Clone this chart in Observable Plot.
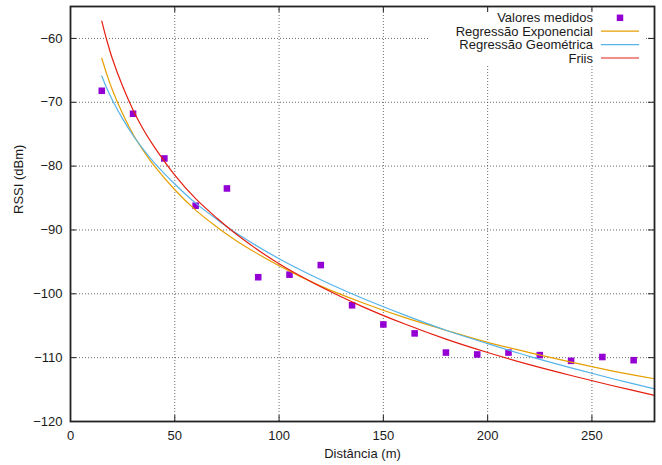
<!DOCTYPE html>
<html><head><meta charset="utf-8">
<script src="https://cdn.jsdelivr.net/npm/d3@7"></script>
<script src="https://cdn.jsdelivr.net/npm/@observablehq/plot@0.6"></script>
<style>
body{margin:0;background:#fff;}
#chart{position:relative;width:662px;height:465px;font-family:"Liberation Sans",Arial,Helvetica,sans-serif;}
#chart svg{display:block;}
#legend{position:absolute;left:0;top:0;pointer-events:none;}
</style></head><body><div id="chart"></div>
<script>
// Measured values
const distances = [15,30,45,60,75,90,105,120,135,150,165,180,195,210,225,240,255,270];
const rssiMeasured = [-68.2,-71.8,-78.8,-86.2,-83.5,-97.4,-97.0,-95.5,-101.8,-104.8,-106.2,-109.2,-109.5,-109.2,-109.6,-110.5,-109.9,-110.4];

// Fitted curves
const curveX = [15,17.5,20,25,30,35,40,50,60,70,80,100,120,140,160,180,200,220,240,260,280];
const expRegression = [-63.1,-65.7,-68.0,-71.8,-75.0,-77.6,-79.9,-83.7,-86.9,-89.5,-91.8,-95.6,-98.8,-101.4,-103.7,-105.7,-107.6,-109.2,-110.7,-112.1,-113.3];
const geoRegression = [-65.9,-67.9,-69.6,-72.6,-75.2,-77.4,-79.4,-82.8,-85.8,-88.3,-90.6,-94.5,-97.8,-100.7,-103.3,-105.7,-107.8,-109.8,-111.6,-113.3,-114.9];
const friis = [-57.3,-60.4,-63.1,-67.5,-71.2,-74.3,-76.9,-81.4,-85.1,-88.1,-90.8,-95.3,-98.9,-102.0,-104.7,-107.1,-109.2,-111.1,-112.8,-114.4,-115.9];

const xTicks = [0,50,100,150,200,250];
const yTicks = [-120,-110,-100,-90,-80,-70,-60];
const seriesNames = ["Valores medidos","Regressão Exponencial","Regressão Geométrica","Friis"];
const seriesColors = ["#9400d3","#e69f00","#56b4e9","#e51e10"];
const xLabel = "Distância (m)";
const yLabel = "RSSI (dBm)";

const W = 662, H = 465;
const mL = 70, mR = 8, mT = 6, mB = 44;
const innerW = W - mL - mR, innerH = H - mT - mB;
const tickLen = 6;

const points = distances.map((d, i) => ({x: d, y: rssiMeasured[i]}));
const curves = [
  {name: seriesNames[1], color: seriesColors[1], values: expRegression},
  {name: seriesNames[2], color: seriesColors[2], values: geoRegression},
  {name: seriesNames[3], color: seriesColors[3], values: friis}
].map(s => ({...s, data: curveX.map((x, i) => ({x, y: s.values[i]}))}));

const fmt = d => (d < 0 ? "\u2212" : "") + Math.abs(d);
const gridStyle = {stroke: "#444", strokeOpacity: 1, strokeWidth: 0.8, strokeDasharray: "1,2"};
const tickStyle = {stroke: "#222", strokeWidth: 1};

const plot = Plot.plot({
  width: W, height: H,
  marginLeft: mL, marginRight: mR, marginTop: mT, marginBottom: mB,
  style: {fontFamily: '"Liberation Sans", Arial, Helvetica, sans-serif', fontSize: "13px", color: "#1a1a1a", background: "#fff"},
  x: {domain: [0, 280]},
  y: {domain: [-120, -55]},
  marks: [
    Plot.gridX(xTicks.filter(d => d > 0), gridStyle),
    Plot.gridY(yTicks.filter(d => d > -120), gridStyle),
    Plot.tickX(xTicks, {x: d => d, insetTop: innerH - tickLen, ...tickStyle}),
    Plot.tickX(xTicks, {x: d => d, insetBottom: innerH - tickLen, ...tickStyle}),
    Plot.tickY(yTicks, {y: d => d, insetRight: innerW - tickLen, ...tickStyle}),
    Plot.tickY(yTicks, {y: d => d, insetLeft: innerW - tickLen, ...tickStyle}),
    Plot.axisX({ticks: xTicks, tickSize: 0, tickPadding: 9, label: null, fontSize: 13}),
    Plot.axisY({ticks: yTicks, tickSize: 0, tickPadding: 8, tickFormat: fmt, label: null, fontSize: 13}),
    Plot.dot(points, {x: "x", y: "y", symbol: "square", r: 3.7, fill: seriesColors[0], stroke: "none"}),
    ...curves.map(s => Plot.line(s.data, {x: "x", y: "y", stroke: s.color, strokeWidth: 1.2, curve: "catmull-rom"})),
    Plot.frame({stroke: "#222", strokeWidth: 1.8}),
    Plot.text([yLabel], {text: d => d, frameAnchor: "left", dx: -52, rotate: -90, fontSize: 13}),
    Plot.text([xLabel], {text: d => d, frameAnchor: "bottom", dy: 36, fontSize: 13})
  ]
});
const chart = document.getElementById("chart");
chart.appendChild(plot);

// Legend (opaque key box, like gnuplot)
const lg = d3.select(chart).append("svg").attr("id", "legend").attr("width", W).attr("height", H);
lg.append("rect").attr("x", 428).attr("y", 12).attr("width", 218).attr("height", 53).attr("fill", "#fff");
const rowY0 = 17.8, rowStep = 13.4;
seriesNames.forEach((name, i) => {
  const y = rowY0 + i * rowStep;
  lg.append("text").attr("x", 593).attr("y", y).attr("text-anchor", "end").attr("dominant-baseline", "central")
    .attr("font-family", '"Liberation Sans", Arial, Helvetica, sans-serif').attr("font-size", 13).attr("fill", "#1a1a1a").text(name);
  if (i === 0) {
    lg.append("rect").attr("x", 620 - 3.25).attr("y", y - 3.25).attr("width", 6.5).attr("height", 6.5).attr("fill", seriesColors[0]);
  } else {
    lg.append("line").attr("x1", 601).attr("x2", 639).attr("y1", y).attr("y2", y).attr("stroke", seriesColors[i]).attr("stroke-width", 1.2);
  }
});
</script></body></html>
